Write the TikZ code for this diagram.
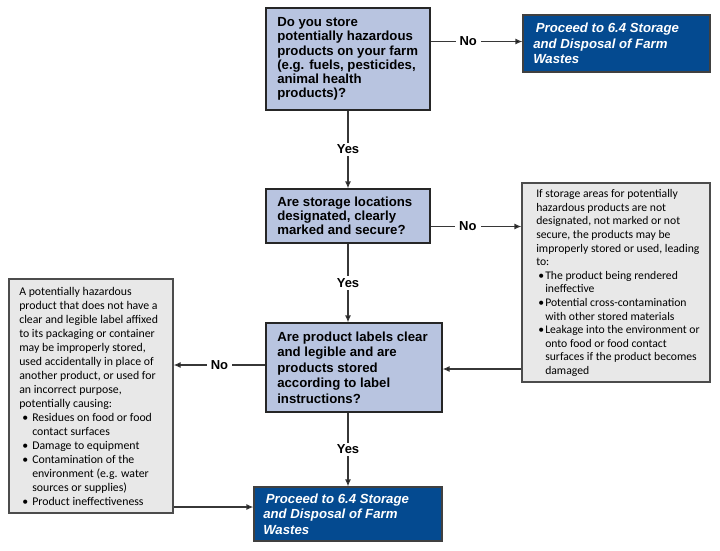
\documentclass[tikz,border=0pt]{standalone}
\usepackage{fontspec}
\setmainfont{Liberation Sans}
\newfontfamily\calib{Carlito}
\usetikzlibrary{arrows.meta}
\definecolor{qfill}{RGB}{184,196,224}
\definecolor{bfill}{RGB}{4,74,144}
\definecolor{gfill}{RGB}{232,232,232}
\definecolor{lnc}{RGB}{55,55,55}
\begin{document}
\begin{tikzpicture}[x=0.75pt,y=-0.75pt,
  qbox/.style={draw=black!85,line width=0.9pt,fill=qfill,rectangle,inner sep=0pt},
  bbox/.style={draw=black!75,line width=0.9pt,fill=bfill,rectangle,inner sep=0pt},
  gbox/.style={draw=black!70,line width=0.9pt,fill=gfill,rectangle,inner sep=0pt},
  qtext/.style={anchor=west,align=left,inner sep=0pt,font=\fontsize{9.9pt}{10.65pt}\selectfont\bfseries},
  qtextb/.style={anchor=west,align=left,inner sep=0pt,font=\fontsize{9.9pt}{11.7pt}\selectfont\bfseries},
  btext/.style={anchor=west,align=left,inner sep=0pt,text=white,font=\fontsize{9.9pt}{11.6pt}\selectfont\bfseries\itshape},
  gtextr/.style={anchor=west,align=left,inner sep=0pt,font=\calib\fontsize{8.75pt}{10.2pt}\selectfont},
  gtextl/.style={anchor=west,align=left,inner sep=0pt,font=\calib\fontsize{8.85pt}{10.5pt}\selectfont},
  arr/.style={draw=lnc,line width=0.9pt,-{Latex[length=5.25pt,width=4.5pt,fill=black]}},
  lbl/.style={fill=white,inner xsep=3pt,inner ysep=1.5pt,font=\fontsize{9.75pt}{11pt}\selectfont\bfseries}
]
\useasboundingbox (0,0) rectangle (720,550);
\fill[white] (0,0) rectangle (720,550);

% helper coordinates
\coordinate (c41) at (0,41.5);
\coordinate (c226) at (0,226.5);
\coordinate (c365) at (0,365);
\coordinate (c369) at (0,369);
\coordinate (c507) at (0,507);

% boxes
\node[qbox,minimum width=164*0.75pt,minimum height=102*0.75pt] (q1) at (348,59) {};
\node[qbox,minimum width=164*0.75pt,minimum height=54*0.75pt] (q2) at (348,216) {};
\node[qbox,minimum width=176*0.75pt,minimum height=89*0.75pt] (q3) at (354,367.5) {};
\node[bbox,minimum width=187*0.75pt,minimum height=57*0.75pt] (b1) at (616.5,43.5) {};
\node[bbox,minimum width=188*0.75pt,minimum height=54*0.75pt] (b2) at (348,514) {};
\node[gbox,minimum width=188*0.75pt,minimum height=199*0.75pt] (gr) at (616,282.5) {};
\node[gbox,minimum width=164*0.75pt,minimum height=234*0.75pt] (gl) at (91,396) {};

% texts
\node[qtext] (q1t) at (277,59) {Do you store\\potentially hazardous\\products on your farm\\(e.g. fuels, pesticides,\\animal health\\products)?};
\node[qtext] (q2t) at (277,216) {Are storage locations\\designated, clearly\\marked and secure?};
\node[qtextb] (q3t) at (277,367.5) {Are product labels clear\\and legible and are\\products stored\\according to label\\instructions?};
\node[btext] (b1t) at (533,43.5) {\hspace*{2pt}Proceed to 6.4 Storage\\and Disposal of Farm\\Wastes};
\node[btext] (b2t) at (263,514) {\hspace*{2pt}Proceed to 6.4 Storage\\and Disposal of Farm\\Wastes};
\node[gtextr] (grt) at (536,283) {If storage areas for potentially\\hazardous products are not\\designated, not marked or not\\secure, the products may be\\improperly stored or used, leading\\to:\\
\hspace*{1.5pt}\makebox[5.25pt][l]{\textbullet}The product being rendered\\\hspace*{6.75pt}ineffective\\
\hspace*{1.5pt}\makebox[5.25pt][l]{\textbullet}Potential cross-contamination\\\hspace*{6.75pt}with other stored materials\\
\hspace*{1.5pt}\makebox[5.25pt][l]{\textbullet}Leakage into the environment or\\\hspace*{6.75pt}onto food or food contact\\\hspace*{6.75pt}surfaces if the product becomes\\\hspace*{6.75pt}damaged};
\node[gtextl] (glt) at (19,396) {A potentially hazardous\\product that does not have a\\clear and legible label affixed\\to its packaging or container\\may be improperly stored,\\used accidentally in place of\\another product, or used for\\an incorrect purpose,\\potentially causing:\\
\hspace*{2.25pt}\makebox[7.5pt][l]{\textbullet}Residues on food or food\\\hspace*{9.75pt}contact surfaces\\
\hspace*{2.25pt}\makebox[7.5pt][l]{\textbullet}Damage to equipment\\
\hspace*{2.25pt}\makebox[7.5pt][l]{\textbullet}Contamination of the\\\hspace*{9.75pt}environment (e.g. water\\\hspace*{9.75pt}sources or supplies)\\
\hspace*{2.25pt}\makebox[7.5pt][l]{\textbullet}Product ineffectiveness};

% connectors
\draw[arr] (q1.east |- c41) -- node[lbl,pos=0.41]{No} (b1.west |- c41);
\draw[arr] (q1.south) -- node[lbl,inner xsep=1pt]{Yes} (q2.north);
\draw[arr] (q2.east |- c226) -- node[lbl,pos=0.41]{No} (gr.west |- c226);
\draw[arr] (q2.south) -- node[lbl,inner xsep=1pt]{Yes} (q2.south |- q3.north);
\draw[arr] (q3.west |- c365) -- node[lbl]{No} (gl.east |- c365);
\draw[arr] (gr.west |- c369) -- (q3.east |- c369);
\draw[arr] (b2.north |- q3.south) -- node[lbl,inner xsep=1pt]{Yes} (b2.north);
\draw[arr] (gl.east |- c507) -- (b2.west |- c507);
\end{tikzpicture}
\end{document}
